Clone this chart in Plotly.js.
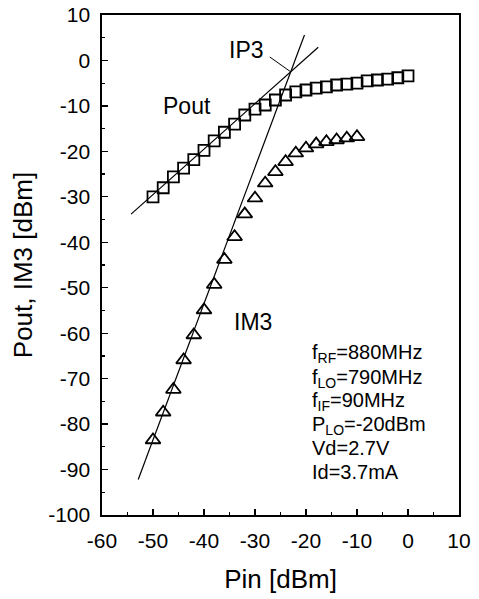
<!DOCTYPE html>
<html><head><meta charset="utf-8">
<script src="https://cdn.plot.ly/plotly-3.0.1.min.js"></script>
<style>html,body{margin:0;padding:0;background:#fff}#g{width:479px;height:599px}</style>
</head><body><div id="g"></div>
<script>
const pinPout = [-50,-48,-46,-44,-42,-40,-38,-36,-34,-32,-30,-28,-26,-24,-22,-20,-18,-16,-14,-12,-10,-8,-6,-4,-2,0];
const pout = [-30,-28,-25.6,-23.7,-21.8,-19.8,-17.7,-15.8,-14,-12,-10.7,-9.8,-8.7,-7.6,-6.9,-6.5,-6.1,-5.8,-5.4,-5.2,-5.0,-4.5,-4.3,-4.1,-3.8,-3.4];
const pinIM3 = [-50,-48,-46,-44,-42,-40,-38,-36,-34,-32,-30,-28,-26,-24,-22,-20,-18,-16,-14,-12,-10];
const im3 = [-83.5,-77.4,-72.4,-65.9,-60.4,-54.9,-49.3,-43.8,-38.8,-33.8,-30.3,-27,-24.5,-22.3,-20.4,-19.3,-18.4,-17.9,-17.5,-17.1,-16.8];
const fitPoutX = [-54.3,-17.6];
const fitPoutY = [-33.8,2.9];
const fitIM3X = [-52.9,-20.3];
const fitIM3Y = [-92.2,5.6];
const xTicks = [-60,-50,-40,-30,-20,-10,0,10];
const yTicks = [10,0,-10,-20,-30,-40,-50,-60,-70,-80,-90,-100];
const params = ["f<sub>RF</sub>=880MHz","f<sub>LO</sub>=790MHz","f<sub>IF</sub>=90MHz","P<sub>LO</sub>=-20dBm","Vd=2.7V","Id=3.7mA"];
const paramY = [-64.4,-69.9,-75.1,-80.2,-85.3,-90.5];

const F = "Liberation Sans, Arial, sans-serif";
const traces = [
  {x: fitPoutX, y: fitPoutY, mode:'lines', line:{color:'#000', width:1.2}, hoverinfo:'skip'},
  {x: fitIM3X, y: fitIM3Y, mode:'lines', line:{color:'#000', width:1.2}, hoverinfo:'skip'},
  {x: pinPout, y: pout, mode:'markers', marker:{symbol:'square-open', size:11, color:'#000', line:{width:1.8, color:'#000'}}},
  {x: pinIM3, y: im3, mode:'markers', marker:{symbol:'triangle-up-open', size:13, color:'#000', line:{width:1.8, color:'#000'}}}
];
const ann = [
  {x:-31.6, y:2.3, text:'IP3', showarrow:false, font:{size:23, family:F, color:'#000'}},
  {x:-23, y:-2.5, ax:-27.4, ay:1.0, axref:'x', ayref:'y', text:'', showarrow:true, arrowhead:0, arrowwidth:1, arrowcolor:'#000', standoff:0, startstandoff:0},
  {x:-43.4, y:-10, text:'Pout', showarrow:false, font:{size:23, family:F, color:'#000'}},
  {x:-30.3, y:-57.5, text:'IM3', showarrow:false, font:{size:23, family:F, color:'#000'}}
];
params.forEach((t,i)=>ann.push({x:-19.3, y:paramY[i], text:t, xanchor:'left', showarrow:false, font:{size:20, family:F, color:'#000'}}));

const layout = {
  width:479, height:599,
  margin:{l:102, r:20, t:15, b:84},
  paper_bgcolor:'#fff', plot_bgcolor:'#fff',
  showlegend:false,
  font:{family:F, color:'#000'},
  xaxis:{range:[-60,10], tickvals:xTicks, ticktext:xTicks.map(String), ticks:'inside', ticklen:6, tickwidth:1.3, tickcolor:'#000',
    minor:{dtick:5, tick0:-60, ticks:'inside', ticklen:3, tickcolor:'#000'},
    showline:true, linecolor:'#000', linewidth:1.6, mirror:true, showgrid:false, zeroline:false,
    ticklabelstandoff:6,
    tickfont:{size:21, family:F}, title:{text:'Pin [dBm]', font:{size:26, family:F}, standoff:19}},
  yaxis:{range:[-100,10], tickvals:yTicks, ticktext:yTicks.map(String), ticks:'inside', ticklen:6, tickwidth:1.3, tickcolor:'#000',
    minor:{dtick:5, tick0:-100, ticks:'inside', ticklen:3, tickcolor:'#000'},
    showline:true, linecolor:'#000', linewidth:1.6, mirror:true, showgrid:false, zeroline:false,
    ticklabelstandoff:6,
    tickfont:{size:21, family:F}, title:{text:'Pout, IM3 [dBm]', font:{size:26, family:F}, standoff:8}},
  annotations: ann
};
Plotly.newPlot('g', traces, layout, {displayModeBar:false, staticPlot:true});
</script></body></html>
